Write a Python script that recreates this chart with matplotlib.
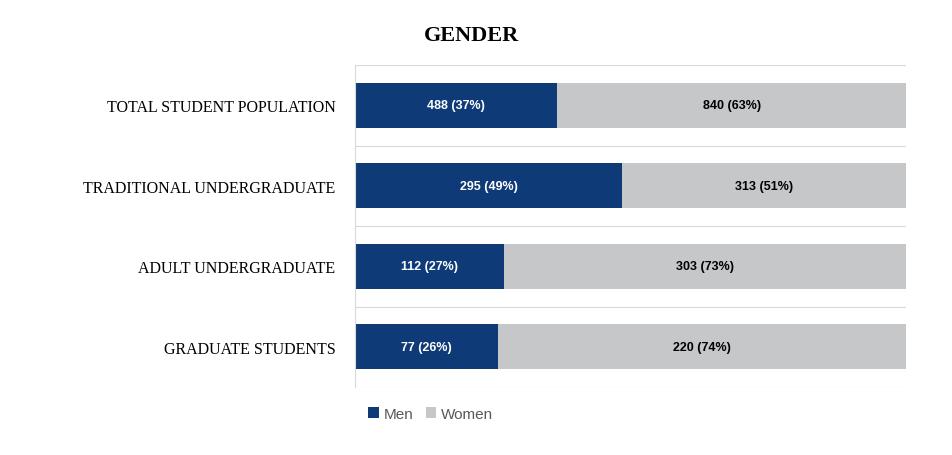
import numpy as np
import matplotlib.pyplot as plt

categories = ["TOTAL STUDENT POPULATION", "TRADITIONAL UNDERGRADUATE",
              "ADULT UNDERGRADUATE", "GRADUATE STUDENTS"]
men = [488, 295, 112, 77]
women = [840, 313, 303, 220]

navy = "#0f3a78"
grey = "#c5c7c8"

fig = plt.figure(figsize=(9.53, 4.56), dpi=100)
ax = fig.add_axes([0.3725, 0.149, 0.5782, 0.706])

men = np.array(men)
women = np.array(women)
tot = men + women
pm = men / tot
pw = women / tot
y = np.arange(len(categories))

ax.barh(y, pm, height=0.56, color=navy, label="Men")
ax.barh(y, pw, left=pm, height=0.56, color=grey, label="Women")

for i in range(len(categories)):
    ax.text(pm[i] / 2, y[i], f"{men[i]} ({round(pm[i]*100):.0f}%)", ha="center", va="center",
            color="white", fontsize=9, fontweight="bold", family="Liberation Sans")
    ax.text(pm[i] + pw[i] / 2, y[i], f"{women[i]} ({round(pw[i]*100):.0f}%)", ha="center", va="center",
            color="black", fontsize=9, fontweight="bold", family="Liberation Sans")

ax.set_xlim(0, 1)
ax.set_ylim(len(categories) - 0.5, -0.5)
ax.set_yticks(y)
ax.set_yticklabels(categories, family="Liberation Serif", fontsize=11.5)
ax.set_yticks(np.arange(-0.5, len(categories)), minor=True)
ax.grid(axis="y", which="minor", color="#d9d9d9", lw=0.8)
ax.tick_params(axis="y", which="both", length=0, pad=14)
ax.set_xticks([])
for s in ["top", "right", "bottom"]:
    ax.spines[s].set_visible(False)
ax.spines["left"].set_color("#d9d9d9")

fig.text(0.495, 0.922, "GENDER", ha="center", va="center", family="Liberation Serif",
         fontsize=16, fontweight="bold")
fig.legend(loc="center left", bbox_to_anchor=(0.372, 0.09), ncol=2, frameon=False,
           handlelength=0.7, handleheight=0.7, handletextpad=0.3, columnspacing=0.8,
           prop={"family": "Liberation Sans", "size": 11}, labelcolor="#595959")

fig.savefig("out.png", dpi=100)
